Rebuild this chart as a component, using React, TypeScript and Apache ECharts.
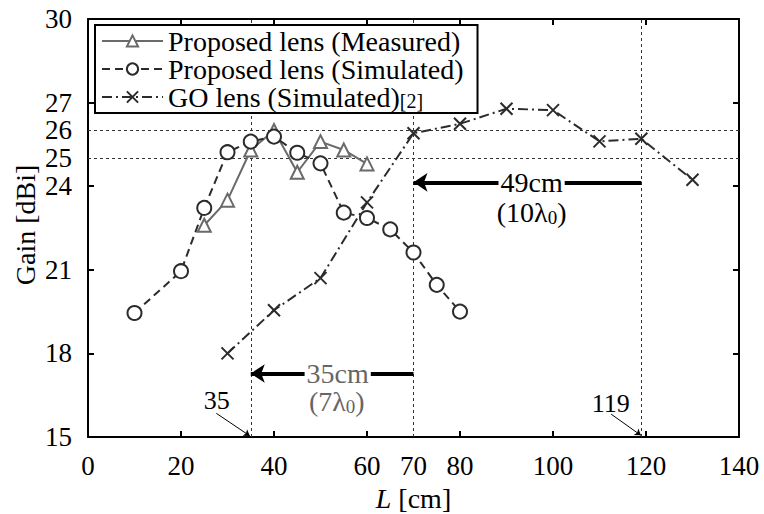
import React, { useEffect, useRef } from "react";
import * as echarts from "echarts";

const FONT = "Liberation Serif";

// Axis ticks and labels
const xTickLabels = [0, 20, 40, 60, 70, 80, 100, 120, 140];
const xTicks = [0, 20, 40, 60, 80, 100, 120, 140];
const yTickLabels = [15, 18, 21, 24, 25, 26, 27, 30];
const yTicks = [15, 18, 21, 24, 27, 30];

// Series
const measuredL = [25, 30, 35, 40, 45, 50, 55, 60];
const measuredGain = [22.6, 23.5, 25.3, 26.0, 24.5, 25.6, 25.3, 24.8];

const simL = [10, 20, 25, 30, 35, 40, 45, 50, 55, 60, 65, 70, 75, 80];
const simGain = [19.45, 20.95, 23.22, 25.22, 25.6, 25.78, 25.2, 24.82, 23.05, 22.86, 22.45, 21.62, 20.46, 19.5];

const goL = [30, 40, 50, 60, 70, 80, 90, 100, 110, 119, 130];
const goGain = [18.0, 19.55, 20.7, 23.42, 25.9, 26.24, 26.78, 26.73, 25.61, 25.7, 24.23];

// Reference lines
const refX = [35, 70, 119];
const refY = [25, 26];

// Arrows [x1, y1, x2, y2]
const bigArrows = [
  [119, 24.14, 70, 24.14],
  [70, 17.28, 35, 17.28],
];
const smallArrows = [
  [27.6, 15.85, 34.8, 15.04],
  [112.5, 15.82, 118.9, 15.06],
];

// Annotation texts
const noteX = [95.4, 95.4, 53.7, 53.5, 27.7, 112.4];
const noteY = [24.14, 23.05, 17.28, 16.26, 16.32, 16.21];
const noteText = ["{w|49cm}", "{b|(10λ}{s|0}{b|)}", "{wg|35cm}", "{g|(7λ}{gs|0}{g|)}", "{n|35}", "{n|119}"];

const NAMES = ["Proposed lens (Measured)", "Proposed lens (Simulated)", "GO lens (Simulated)"];
const GRAY = "#6a6a6a";
const DARK = "#2b2b2b";

export default function App() {
  const ref = useRef<HTMLDivElement>(null);
  useEffect(() => {
    if (!ref.current) return;
    const chart = echarts.init(ref.current, null, { renderer: "svg" });
    const axisLineStyle = { color: "#000", width: 2 };
    const option: any = {
      animation: false,
      backgroundColor: "#fff",
      grid: { left: 88, right: 25, top: 19, bottom: 77, containLabel: false, outerBoundsMode: "none" },
      legend: {
        orient: "vertical",
        left: 95,
        top: 25,
        data: NAMES,
        itemWidth: 61,
        itemHeight: 14,
        itemGap: 0,
        padding: [2, 14, 2, 6],
        borderColor: "#000",
        borderWidth: 2,
        backgroundColor: "#fff",
        z: 10,
        formatter: (name: string) =>
          name === "GO lens (Simulated)" ? "{n|GO lens (Simulated)}{r|[2]}" : "{n|" + name + "}",
        textStyle: {
          fontFamily: FONT,
          fontSize: 28,
          lineHeight: 27,
          color: "#000",
          rich: {
            n: { fontFamily: FONT, fontSize: 28, lineHeight: 27, color: "#000" },
            r: { fontFamily: FONT, fontSize: 20, lineHeight: 27, color: "#000", verticalAlign: "bottom" },
          },
        },
      },
      xAxis: [
        {
          type: "value",
          min: 0,
          max: 140,
          interval: 10,
          name: "{i|L} [cm]",
          nameLocation: "middle",
          nameGap: 48,
          nameMoveOverlap: false,
          nameTextStyle: {
            fontFamily: FONT,
            fontSize: 28,
            lineHeight: 26,
            color: "#000",
            rich: { i: { fontFamily: FONT, fontSize: 28, lineHeight: 26, fontStyle: "italic", color: "#000" } },
          },
          axisLine: { show: true, onZero: false, lineStyle: axisLineStyle },
          axisTick: { show: true, inside: true, length: 6, customValues: xTicks, lineStyle: axisLineStyle },
          axisLabel: { customValues: xTickLabels, fontFamily: FONT, fontSize: 27, lineHeight: 24, color: "#000", margin: 17 },
          splitLine: { show: false },
        },
        {
          type: "value",
          position: "top",
          min: 0,
          max: 140,
          interval: 10,
          axisLine: { show: true, onZero: false, lineStyle: axisLineStyle },
          axisTick: { show: true, inside: true, length: 6, customValues: xTicks, lineStyle: axisLineStyle },
          axisLabel: { show: false },
          splitLine: { show: false },
        },
      ],
      yAxis: [
        {
          type: "value",
          min: 15,
          max: 30,
          interval: 1,
          axisLine: { show: true, onZero: false, lineStyle: axisLineStyle },
          axisTick: { show: true, inside: true, length: 6, customValues: yTicks, lineStyle: axisLineStyle },
          axisLabel: { customValues: yTickLabels, fontFamily: FONT, fontSize: 27, lineHeight: 24, color: "#000", margin: 16 },
          splitLine: { show: false },
        },
        {
          type: "value",
          position: "right",
          min: 15,
          max: 30,
          interval: 1,
          axisLine: { show: true, onZero: false, lineStyle: axisLineStyle },
          axisTick: { show: true, inside: true, length: 6, customValues: yTicks, lineStyle: axisLineStyle },
          axisLabel: { show: false },
          splitLine: { show: false },
        },
      ],
      graphic: [
        {
          type: "text",
          x: 25,
          y: 225,
          rotation: Math.PI / 2,
          style: {
            text: "Gain [dBi]",
            fontFamily: FONT,
            fontSize: 28,
            fill: "#000",
            align: "center",
            verticalAlign: "middle",
            textAlign: "center",
            textVerticalAlign: "middle",
          },
        },
      ],
      series: [
        {
          name: "refs",
          type: "line",
          data: [],
          silent: true,
          z: 1,
          markLine: {
            silent: true,
            symbol: "none",
            label: { show: false },
            lineStyle: { type: [3, 3], color: "#333", width: 1 },
            data: [...refX.map((v) => ({ xAxis: v })), ...refY.map((v) => ({ yAxis: v }))],
          },
        },
        {
          name: "arrows",
          type: "line",
          data: [],
          silent: true,
          z: 3,
          markLine: {
            silent: true,
            symbol: ["none", "arrow"],
            symbolSize: 14,
            label: { show: false },
            lineStyle: { type: "solid", color: "#000", width: 4 },
            data: bigArrows.map((a) => [{ coord: [a[0], a[1]] }, { coord: [a[2], a[3]] }]),
          },
        },
        {
          name: "smallArrows",
          type: "line",
          data: [],
          silent: true,
          z: 3,
          markLine: {
            silent: true,
            symbol: ["none", "arrow"],
            symbolSize: 6,
            label: { show: false },
            lineStyle: { type: "solid", color: "#000", width: 1 },
            data: smallArrows.map((a) => [{ coord: [a[0], a[1]] }, { coord: [a[2], a[3]] }]),
          },
        },
        {
          name: NAMES[0],
          type: "line",
          z: 5,
          data: measuredL.map((x, i) => [x, measuredGain[i]]),
          symbol: "triangle",
          symbolSize: 13,
          lineStyle: { color: GRAY, width: 2, type: "solid" },
          itemStyle: { color: "#fff", borderColor: GRAY, borderWidth: 2 },
        },
        {
          name: NAMES[1],
          type: "line",
          z: 6,
          data: simL.map((x, i) => [x, simGain[i]]),
          symbol: "circle",
          symbolSize: 14,
          lineStyle: { color: DARK, width: 2, type: [8, 5] },
          itemStyle: { color: "#fff", borderColor: DARK, borderWidth: 2 },
        },
        {
          name: NAMES[2],
          type: "line",
          z: 6,
          data: goL.map((x, i) => [x, goGain[i]]),
          symbol: "path://M0,0L10,10M10,0L0,10",
          symbolSize: 12,
          lineStyle: { color: DARK, width: 2, type: [10, 4, 2, 4] },
          itemStyle: { color: DARK, borderColor: DARK, borderWidth: 2 },
        },
        {
          name: "notes",
          type: "scatter",
          z: 8,
          silent: true,
          symbolSize: 1,
          itemStyle: { color: "#fff", opacity: 1 },
          data: noteX.map((x, i) => ({
            value: [x, noteY[i]],
            label: { formatter: noteText[i] },
          })),
          label: {
            show: true,
            position: "inside",
            color: "#000",
            opacity: 1,
            textBorderWidth: 0,
            fontFamily: FONT,
            fontSize: 28,
            rich: {
              w: { fontFamily: FONT, fontSize: 28, color: "#000", backgroundColor: "#fff", padding: [0, 2], textBorderWidth: 0 },
              wg: { fontFamily: FONT, fontSize: 28, color: "#666", backgroundColor: "#fff", padding: [0, 2], textBorderWidth: 0 },
              b: { fontFamily: FONT, fontSize: 28, color: "#000", textBorderWidth: 0 },
              s: { fontFamily: FONT, fontSize: 19, color: "#000", verticalAlign: "bottom", textBorderWidth: 0 },
              g: { fontFamily: FONT, fontSize: 28, color: "#666", textBorderWidth: 0 },
              gs: { fontFamily: FONT, fontSize: 19, color: "#666", verticalAlign: "bottom", textBorderWidth: 0 },
              n: { fontFamily: FONT, fontSize: 26, color: "#000", textBorderWidth: 0 },
            },
          },
        },
      ],
    };
    chart.setOption(option);
    return () => chart.dispose();
  }, []);
  return <div ref={ref} style={{ width: 764, height: 514, position: "absolute", left: 0, top: 0 }} />;
}
